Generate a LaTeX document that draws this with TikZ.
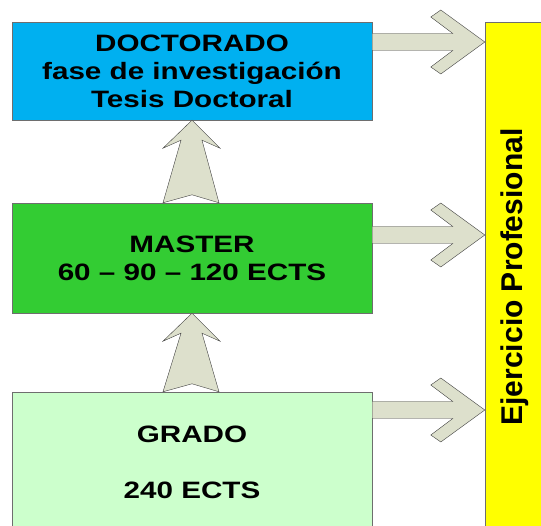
\documentclass[tikz,border=0pt]{standalone}
\usepackage{fontspec}
\usepackage{tikz}
\usetikzlibrary{calc}
\newfontfamily\boxfont[FakeStretch=1.25]{Liberation Sans}
\newfontfamily\barfont{Liberation Sans}
\definecolor{doccolor}{RGB}{0,176,240}
\definecolor{mastercolor}{RGB}{51,204,51}
\definecolor{gradocolor}{RGB}{204,255,204}
\definecolor{jobcolor}{RGB}{255,255,0}
\definecolor{arrowcolor}{RGB}{221,224,204}
\definecolor{edgecolor}{RGB}{110,110,110}

% block arrow pointing up: #1 tip, #2 base
\newcommand{\liftarrow}[2]{%
  \draw[blockarrow] (#1) -- ++(28,28) -- ++(-18,-8) -- ($(#2)+(27,0)$)
    -- ($(#2)+(0,-8)$) -- ($(#2)+(-29,0)$) -- ($(#1)+(-11,20)$) -- ($(#1)+(-29,28)$) -- cycle;}
% block arrow pointing right: #1 start, #2 tip
\newcommand{\sidearrow}[2]{%
  \draw[blockarrow] ($(#1)+(0,-8.5)$) -- ($(#2)+(-32,-8.5)$) -- ($(#2)+(-54,-25)$)
    -- ($(#2)+(-44,-32)$) -- (#2) -- ($(#2)+(-44,32)$) -- ($(#2)+(-54,25)$)
    -- ($(#2)+(-32,8.5)$) -- ($(#1)+(0,8.5)$) -- cycle;}

\begin{document}
\begin{tikzpicture}[
    x=1pt, y=-1pt,
    every node/.style={font=\boxfont\bfseries\fontsize{23.7}{28}\selectfont},
    level/.style={draw=edgecolor, thin, minimum width=360pt, align=center, inner sep=0pt},
    blockarrow/.style={draw=black!75, fill=arrowcolor, thin, line join=miter},
]
    \useasboundingbox (0,0) rectangle (541,526);

    % Levels
    \node[level, fill=doccolor, minimum height=98pt] (doc) at (192,71)
        {DOCTORADO\\fase de investigación\\Tesis Doctoral};
    \node[level, fill=mastercolor, minimum height=110pt] (master) at (192,258)
        {MASTER\\60 – 90 – 120 ECTS};
    \node[level, fill=gradocolor, minimum height=140pt] (grado) at (192,462)
        {GRADO\\[28pt]240 ECTS};

    % Ejercicio Profesional bar
    \node[draw=edgecolor, thin, fill=jobcolor, minimum width=60pt, minimum height=510pt,
        inner sep=0pt, font=\barfont\bfseries\fontsize{30}{36}\selectfont] (job) at (515,277)
        {\rotatebox{90}{Ejercicio Profesional}};

    % Up arrows
    \liftarrow{doc.south}{master.north}
    \liftarrow{master.south}{grado.north}

    % Arrows to the bar
    \coordinate (t1) at (job.west |- 0,42);
    \coordinate (t2) at (job.west |- 0,235);
    \coordinate (t3) at (job.west |- 0,410);
    \coordinate (s1) at (doc.east |- t1);
    \coordinate (s2) at (master.east |- t2);
    \coordinate (s3) at (grado.east |- t3);
    \sidearrow{s1}{t1}
    \sidearrow{s2}{t2}
    \sidearrow{s3}{t3}
\end{tikzpicture}
\end{document}
